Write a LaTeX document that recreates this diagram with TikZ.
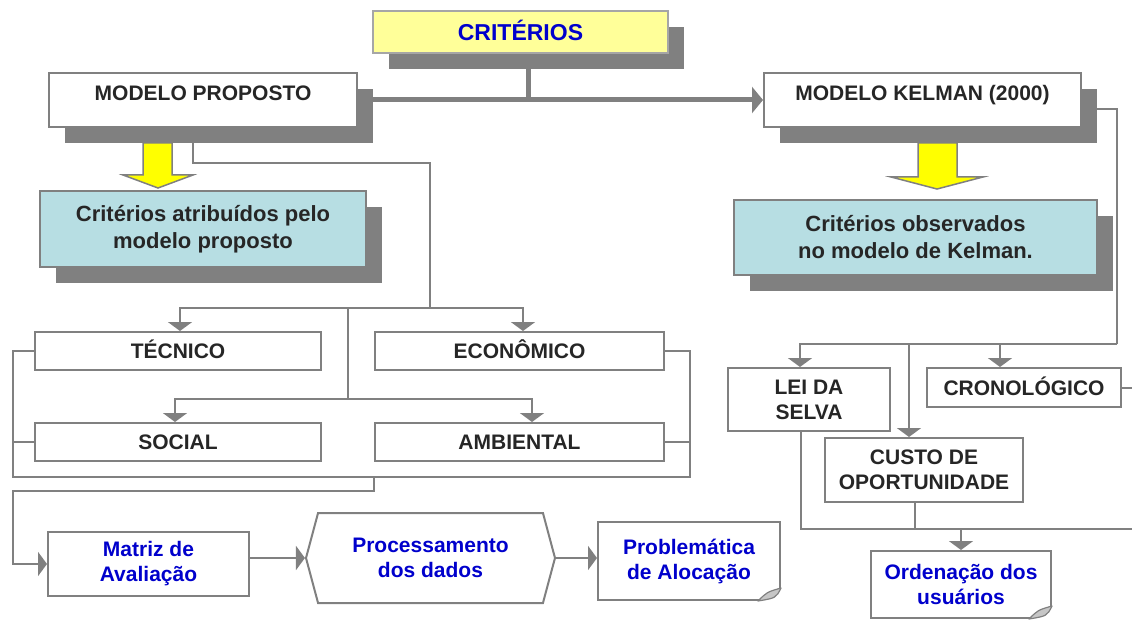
\documentclass[tikz,border=0pt]{standalone}
\usepackage{fontspec}
\setmainfont{Liberation Sans}
\usetikzlibrary{shadows,arrows.meta,shapes,calc}
\definecolor{linegray}{HTML}{808080}
\definecolor{shadegray}{HTML}{808080}
\definecolor{txtgray}{HTML}{262626}
\definecolor{txtblue}{HTML}{0000CC}
\definecolor{critfill}{HTML}{FFFF99}
\definecolor{cyanfill}{HTML}{B7DEE3}
\definecolor{arrowyellow}{HTML}{FFFF00}

\begin{document}
\begin{tikzpicture}
[x=1pt,y=-1pt,
mybox/.style={draw=linegray,line width=2pt,fill=white,text=txtgray,align=center,
inner sep=0pt,font=\bfseries\fontsize{21}{25}\selectfont},
capline/.style={text height=15pt,text depth=0pt},
shbox/.style={mybox,drop shadow={shadow xshift=16pt,shadow yshift=-16pt,
opacity=1,fill=shadegray}},
bluebox/.style={mybox,text=txtblue},
myedge/.style={draw=linegray,line width=2pt,>={Triangle[length=9pt,width=24pt]}},
mainedge/.style={draw=linegray,line width=5pt,>={Triangle[length=11pt,width=26pt]}},
yarrow/.style={draw=linegray,line width=1.5pt,fill=arrowyellow,line join=miter},
fold/.style={draw=linegray,line width=1.2pt,fill=linegray!45,line join=round}]
\useasboundingbox (0,0) rectangle (1132,620);
%%%%%%%%%%
%%%%% top
\node (crit) [shbox,capline,fill=critfill,text=txtblue,draw=linegray!70,
font=\bfseries\fontsize{23}{27}\selectfont,text height=16.5pt,
minimum width=295pt,minimum height=42pt] at (520.5,32) {CRITÉRIOS};
\node (mp) [shbox,text height=15pt,text depth=14pt,minimum width=308pt,
minimum height=54pt] at (203,100) {MODELO PROPOSTO};
\node (kel) [shbox,text height=15pt,text depth=14pt,minimum width=317pt,
minimum height=54pt] at (922.5,100) {MODELO KELMAN (2000)};
\node (catr) [shbox,fill=cyanfill,font=\bfseries\fontsize{22}{27}\selectfont,
minimum width=326pt,minimum height=76pt] at (203,229)
{Critérios atribuídos pelo\\modelo proposto};
\node (cobs) [shbox,fill=cyanfill,font=\bfseries\fontsize{22}{27}\selectfont,
minimum width=363pt,minimum height=75pt] at (915.5,237.5)
{Critérios observados\\no modelo de Kelman.};
%% yellow arrows
\draw[yarrow] (143,143) -- (172,143) -- (172,175) -- (193,175) -- (158,188)
-- (123,175) -- (143,175) -- cycle;
\draw[yarrow] (918,143) -- (957,143) -- (957,177) -- (983,177) -- (937,189)
-- (891,177) -- (918,177) -- cycle;
%%%%% left criteria
\node (tec) [mybox,capline,minimum width=286pt,minimum height=38pt] at (178,351) {TÉCNICO};
\node (eco) [mybox,capline,minimum width=289pt,minimum height=38pt] at (519.5,351) {ECONÔMICO};
\node (soc) [mybox,capline,minimum width=286pt,minimum height=38pt] at (178,442) {SOCIAL};
\node (amb) [mybox,capline,minimum width=289pt,minimum height=38pt] at (519.5,442) {AMBIENTAL};
%% bottom row
\node (mat) [bluebox,minimum width=201pt,minimum height=64pt] at (148.5,564)
{Matriz de\\Avaliação};
\node (proc) [bluebox,shape=signal,signal to=east and west,signal pointer angle=150,
minimum width=249pt,minimum height=90pt] at (430.5,558) {Processamento\\dos dados};
\node (prob) [bluebox,minimum width=182pt,minimum height=78pt] at (689,561)
{Problemática\\de Alocação};
%%%%% right criteria
\node (lei) [mybox,minimum width=162pt,minimum height=63pt] at (809,399.5) {LEI DA\\SELVA};
\node (crono) [mybox,capline,minimum width=194pt,minimum height=39pt] at (1024,387.5)
{CRONOLÓGICO};
\node (custo) [mybox,minimum width=198pt,minimum height=64pt] at (924,470)
{CUSTO DE\\OPORTUNIDADE};
\node (ord) [bluebox,minimum width=180pt,minimum height=67pt] at (961,584.5)
{Ordenação dos\\usuários};
%% folded corners
\foreach \n in {prob,ord}{
\fill[white] ($(\n.south east)+(-23,2)$) -- ($(\n.south east)+(2,2)$)
-- ($(\n.south east)+(2,-14)$) -- cycle;
\draw[fold] ($(\n.south east)+(-23,0)$) .. controls ($(\n.south east)+(-5,-3)$)
.. ($(\n.south east)+(0,-13)$) .. controls ($(\n.south east)+(-14,-9)$) .. cycle;
}
%%%%%%%%%%
%% junctions
\coordinate (c0) at ($(crit.south)+(8,0)$);
\coordinate (c1) at (430,163);
\coordinate (c2) at (430,308);
\coordinate (c3) at (348,308);
\coordinate (c4) at (348,399);
\coordinate (b1) at (13,477);
\coordinate (b2) at (690,477);
\coordinate (b3) at (374,477);
\coordinate (b4) at (13,491);
\coordinate (k1) at (1117,344);
\coordinate (k4) at (1132,529);
\coordinate (cs) at ($(custo.south)+(-9,0)$);
%% main edges
\draw[mainedge] (c0) -- (c0 |- mp.east);
\draw[mainedge,->] (mp.east) -- (kel.west);
%% left tree
\draw[myedge] ($(mp.south)+(-10,0)$) |- (c1) -- (c2);
\draw[myedge,->] (c2) -| ($(tec.north)+(2,0)$);
\draw[myedge,->] (c2) -| ($(eco.north)+(3.5,0)$);
\draw[myedge] (c3) -- (c4);
\draw[myedge,->] (c4) -| ($(soc.north)+(-3,0)$);
\draw[myedge,->] (c4) -| ($(amb.north)+(12.5,0)$);
\draw[myedge] (tec.west) -| (b1) -- (b2) |- (eco.east);
\draw[myedge] (soc.west) -- (soc.west -| b1);
\draw[myedge] (amb.east) -- (amb.east -| b2);
\draw[myedge,->] (b3) |- (b4) |- (mat.west);
\draw[myedge,->] (mat.east |- proc.west) -- (proc.west);
\draw[myedge,->] (proc.east) -- (proc.east -| prob.west);
%% right tree
\draw[myedge] ($(kel.east)+(0,9)$) -| (k1);
\draw[myedge,->] (k1) -| ($(lei.north)+(-9,0)$);
\draw[myedge,->] (k1) -| ($(custo.north)+(-15,0)$);
\draw[myedge,->] (k1) -| ($(crono.north)+(-24,0)$);
\draw[myedge] (crono.east) -- (crono.east -| k4);
\draw[myedge] ($(lei.south)+(-8,0)$) |- (k4);
\draw[myedge] (cs) -- (cs |- k4);
\draw[myedge,->] (ord.north |- k4) -- (ord.north);
\end{tikzpicture}
\end{document}
